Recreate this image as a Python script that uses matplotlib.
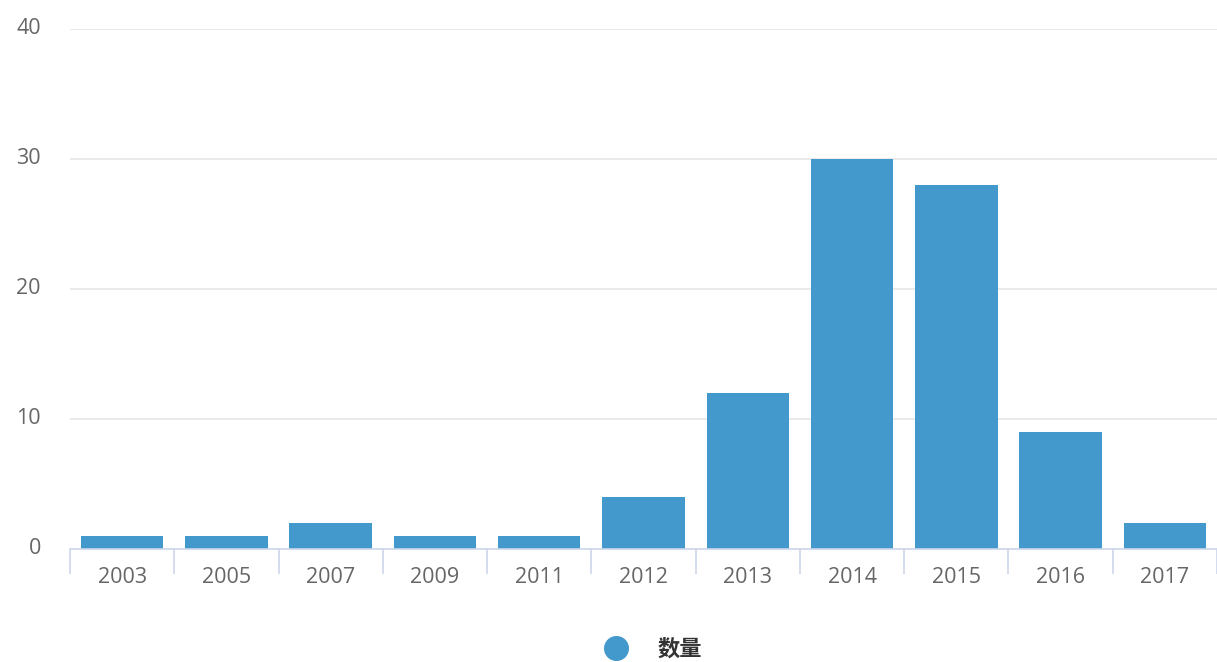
import numpy as np
import matplotlib.pyplot as plt
from matplotlib.lines import Line2D
from matplotlib.ticker import FixedLocator
from matplotlib.transforms import ScaledTranslation

# chart data
years = ['2003', '2005', '2007', '2009', '2011', '2012', '2013', '2014', '2015', '2016', '2017']
counts = [1, 1, 2, 1, 1, 4, 12, 30, 28, 9, 2]
y_ticks = [0, 10, 20, 30, 40]
series_name = '数量'

plt.rcParams['font.family'] = ['Open Sans', 'Noto Sans CJK SC', 'DejaVu Sans']

fig = plt.figure(figsize=(12.17, 6.62), dpi=100)
ax = fig.add_axes([70 / 1217, 1 - 549 / 662, 1147 / 1217, 520 / 662])

bar_color = '#4398cc'
x = np.arange(len(years))
ax.bar(x, counts, width=0.79, color=bar_color, zorder=3)

ax.set_xlim(-0.5, len(years) - 0.5)
ax.set_ylim(0, 40)
ax.set_yticks(y_ticks)
ax.yaxis.grid(True, color='#e6e6e6', linewidth=1.2, zorder=0)
ax.tick_params(axis='y', length=0, pad=21, labelsize=15.5, labelcolor='#666666')
# labels sit a touch above their grid lines
for lbl in ax.get_yticklabels():
    lbl.set_transform(lbl.get_transform() + ScaledTranslation(0, 3 / 100, fig.dpi_scale_trans))

ax.set_xticks(x)
ax.set_xticklabels(years)
ax.tick_params(axis='x', which='major', length=0, pad=13, labelsize=15.5, labelcolor='#666666')
ax.xaxis.set_minor_locator(FixedLocator(np.arange(-0.5, len(years), 1.0)))
ax.tick_params(axis='x', which='minor', length=18, width=1.2, color='#ccd6eb')

for side in ['top', 'right', 'left']:
    ax.spines[side].set_visible(False)
ax.spines['bottom'].set_color('#ccd6eb')
ax.spines['bottom'].set_linewidth(1.2)
ax.spines['bottom'].set_zorder(4)

handle = Line2D([], [], marker='o', linestyle='none', markersize=17,
                markerfacecolor=bar_color, markeredgecolor=bar_color)
fig.legend([handle], [series_name], loc='center', bbox_to_anchor=(648 / 1217, 1 - 649 / 662),
           frameon=False, handletextpad=0.9, borderpad=0.2,
           prop={'size': 16, 'weight': 'bold', 'family': ['Noto Sans CJK SC', 'DejaVu Sans']},
           labelcolor='#333333')

fig.savefig('out.png', dpi=100)
